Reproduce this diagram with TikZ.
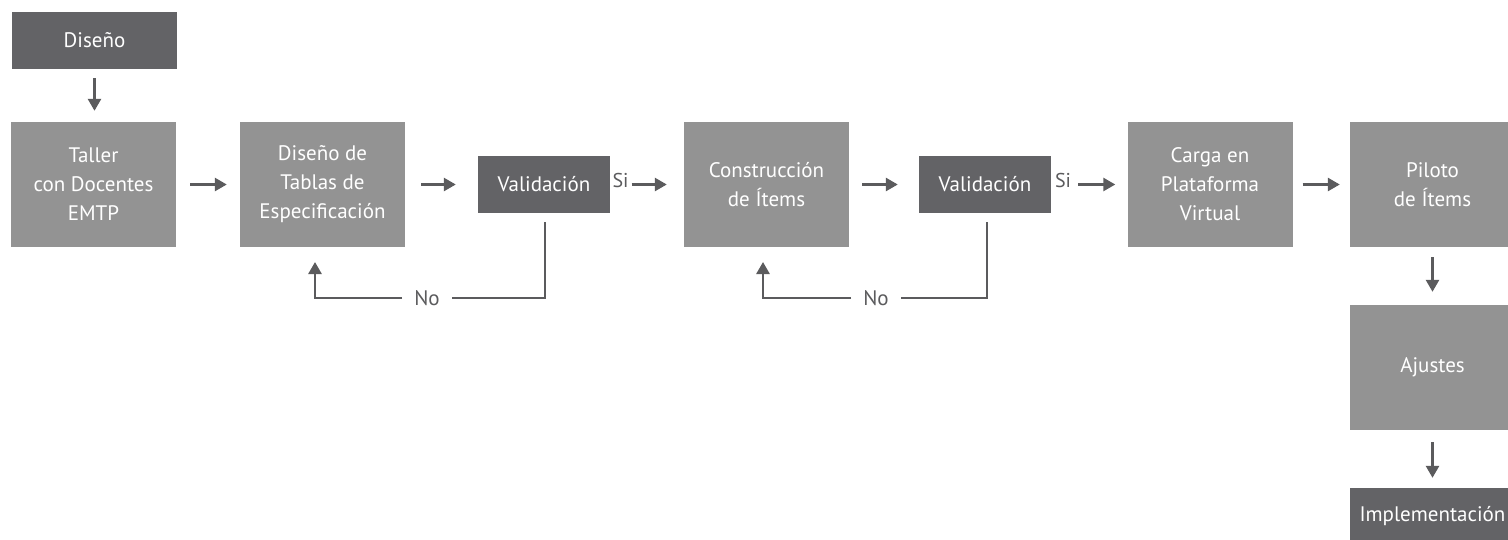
\documentclass[tikz,border=0pt]{standalone}
\usepackage{fontspec}
\setmainfont{PT Sans}
\usetikzlibrary{arrows.meta,calc}
\definecolor{darkbox}{HTML}{636366}
\definecolor{lightbox}{HTML}{939393}
\definecolor{arrowc}{HTML}{5B5B5D}
\tikzset{
 box/.style={fill=lightbox, text=white, minimum width=165pt, minimum height=125pt, inner sep=0pt, align=center, font=\fontsize{21}{29}\selectfont},
 dbox/.style={fill=darkbox, text=white, minimum width=132pt, minimum height=57pt, inner sep=0pt, font=\fontsize{21}{29}\selectfont},
 arr/.style={draw=arrowc, line width=2.6pt, -{Triangle[length=12pt,width=13pt]}},
 fb/.style={draw=arrowc, line width=2.6pt},
 lbl/.style={text=arrowc, font=\fontsize{21}{24}\selectfont, inner sep=0pt},
 silbl/.style={text=arrowc, font=\fontsize{20}{22}\selectfont, inner sep=0pt},
}
\begin{document}
\begin{tikzpicture}[x=1pt,y=-1pt]
\clip (0,0) rectangle (1508,539);
\fill[white] (0,0) rectangle (1508,539);
% boxes
\node[dbox, minimum width=165pt] (diseno) at (94.5,40.5) {Diseño};
\node[box] (taller) at (93.5,184.5) {Taller\\con Docentes\\EMTP};
\node[box] (tablas) at (322.5,184.5) {Diseño de\\Tablas de\\Especificación};
\node[dbox] (val1) at (544,184.5) {Validación};
\node[box] (constr) at (766.5,184.5) {Construcción\\de Ítems};
\node[dbox] (val2) at (985,184.5) {Validación};
\node[box] (carga) at (1210,184.5) {Carga en\\Plataforma\\Virtual};
\node[box] (piloto) at (1432.5,184.5) {Piloto\\de Ítems};
\node[box] (ajustes) at (1432.5,367.5) {Ajustes};
\node[dbox, minimum width=165pt] (impl) at (1432.5,516.5) {Implementación};
% labels
\node[silbl] (si1) at (620.5,180) {Si};
\node[silbl] (si2) at (1063,180) {Si};
\node[lbl, inner xsep=12pt] (no1) at (427,298) {No};
\node[lbl, inner xsep=12pt] (no2) at (876,298) {No};
\coordinate (up1) at (315,247);
\coordinate (up2) at (763,247);
% arrows
\draw[arr, shorten <=9pt, shorten >=11pt] (diseno.south) -- (diseno.south |- taller.north);
\draw[arr, shorten <=14pt, shorten >=13pt] (taller.east) -- (taller.east -| tablas.west);
\draw[arr, shorten <=16pt, shorten >=22pt] (tablas.east) -- (tablas.east -| val1.west);
\draw[arr, shorten <=3pt, shorten >=17pt] (si1.east |- constr.west) -- (constr.west);
\draw[arr, shorten <=13pt, shorten >=21pt] (constr.east) -- (constr.east -| val2.west);
\draw[arr, shorten <=7pt, shorten >=12pt] (si2.east |- carga.west) -- (carga.west);
\draw[arr, shorten <=10pt, shorten >=10pt] (carga.east) -- (carga.east -| piloto.west);
\draw[arr, shorten <=10pt, shorten >=13pt] (piloto.south) -- (ajustes.north);
\draw[arr, shorten <=12pt, shorten >=10pt] (ajustes.south) -- (impl.north);
% feedback loops
\draw[fb, shorten <=9pt] ($(val1.south)+(1,0)$) |- (no1);
\draw[arr, shorten >=15pt] (no1) -| (up1);
\draw[fb, shorten <=9pt] ($(val2.south)+(2,0)$) |- (no2);
\draw[arr, shorten >=15pt] (no2) -| (up2);
\end{tikzpicture}
\end{document}
